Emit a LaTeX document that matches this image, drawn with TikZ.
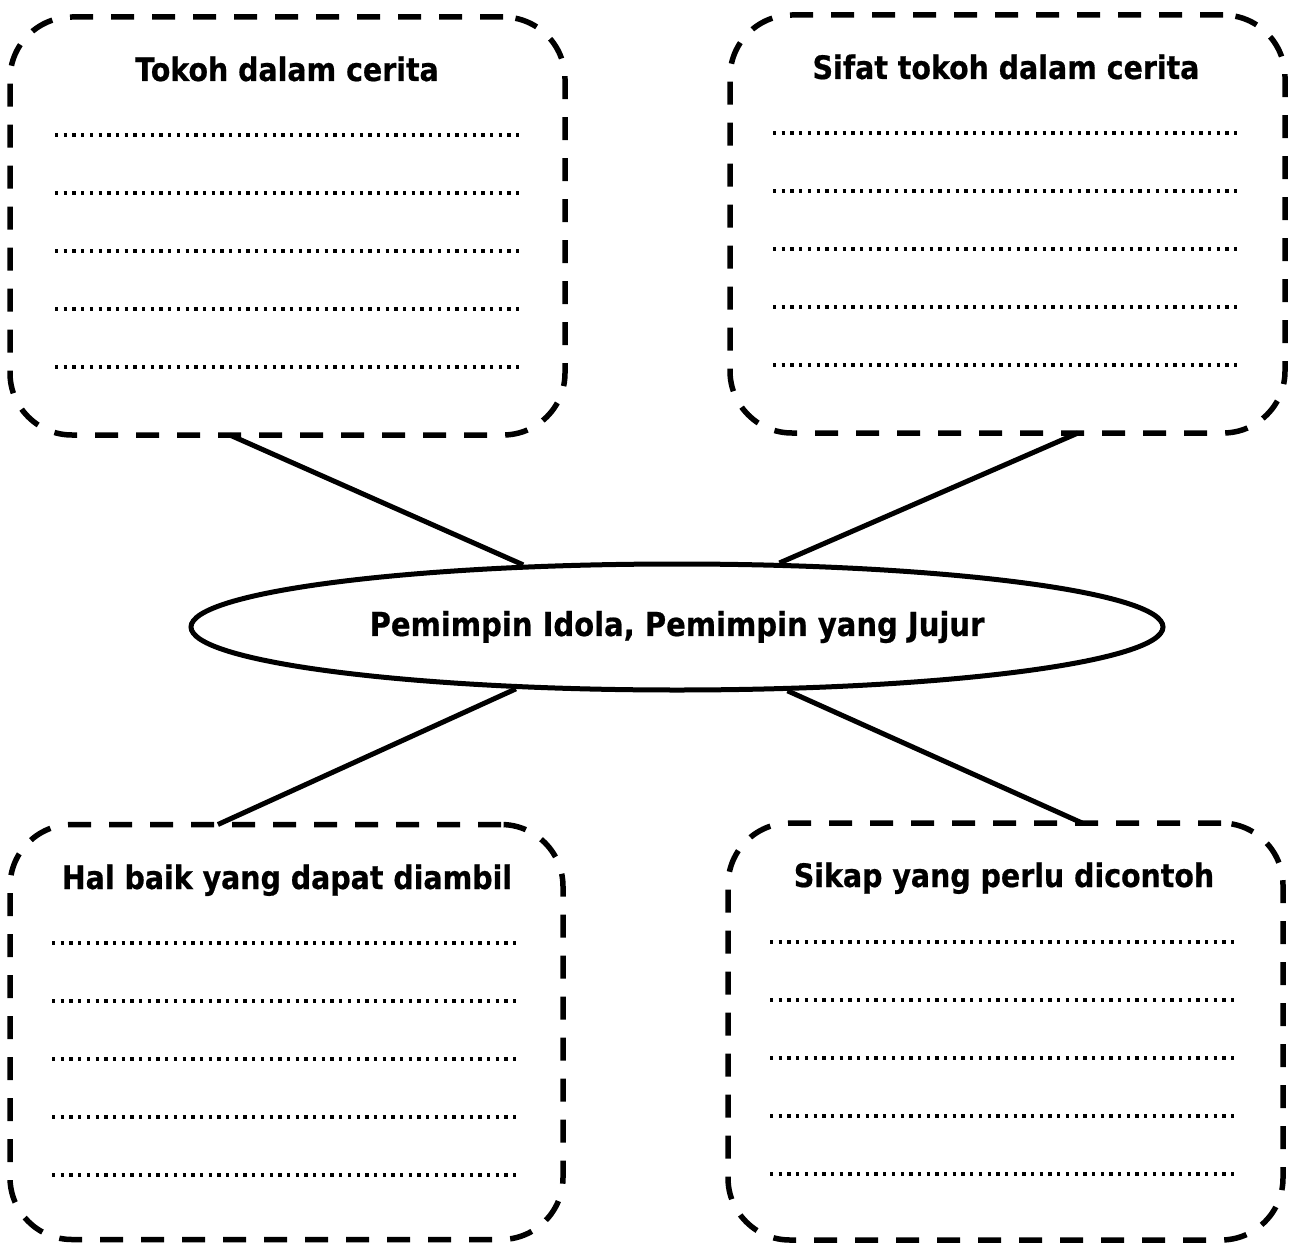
\documentclass[tikz,border=0pt]{standalone}
\usepackage{fontspec}
\setmainfont{DejaVu Sans}[FakeStretch=0.88, BoldFeatures={FakeBold=0.6}]
\usetikzlibrary{shapes.geometric,calc}
\tikzset{
  box/.style={draw, line width=5.5pt, dash pattern=on 23pt off 18pt, rounded corners=62pt, minimum width=#1, inner sep=0pt, outer sep=0pt},
  dotline/.style={line width=3.3pt, dash pattern=on 3.3pt off 5.4pt},
  ttl/.style={font=\bfseries\fontsize{32.3}{38}\selectfont, anchor=base},
  conn/.style={line width=5pt},
}
\begin{document}
\begin{tikzpicture}[x=1pt,y=-1pt]
\useasboundingbox (0,0) rectangle (1290,1244);
% boxes
\node[box=555pt, minimum height=418pt] (b1) at (287.5,226) {};
\node[box=555pt, minimum height=418pt] (b2) at (1007.5,224) {};
\node[box=553pt, minimum height=415pt] (b3) at (286.5,1032) {};
\node[box=555pt, minimum height=417pt] (b4) at (1005.5,1031.5) {};
% ellipse
\node[draw, ellipse, line width=5pt, minimum width=972pt, minimum height=126pt, inner sep=0pt,
  font=\bfseries\fontsize{33}{38}\selectfont] (e) at (677,627) {Pemimpin Idola, Pemimpin yang Jujur};
% titles
\node[ttl] (t1) at (287,81) {Tokoh dalam cerita};
\node[ttl] (t2) at (1006,79) {Sifat tokoh dalam cerita};
\node[ttl] (t3) at (287,889) {Hal baik yang dapat diambil};
\node[ttl] (t4) at (1004,887) {Sikap yang perlu dicontoh};
% dotted lines
\foreach \y in {135,193,251,309,367} {
  \draw[dotline] (55,\y) -- (522,\y);
  \draw[dotline] (773,\y-2) -- (1240,\y-2);
}
\foreach \y in {943,1001,1059,1117,1175} {
  \draw[dotline] (52,\y) -- (520,\y);
  \draw[dotline] (770,\y-1) -- (1238,\y-1);
}
% connectors
\draw[conn] ($(b1.south west)!0.396!(b1.south east)$) -- (e.158);
\draw[conn] ($(b2.south west)!0.627!(b2.south east)$) -- (e.32);
\draw[conn] ($(b3.north west)!0.376!(b3.north east)$) -- (e.201.5);
\draw[conn] ($(b4.north west)!0.638!(b4.north east)$) -- (e.330.8);
\end{tikzpicture}
\end{document}
